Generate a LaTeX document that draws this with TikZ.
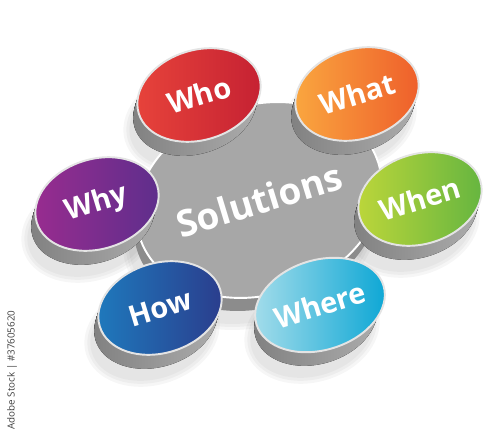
\documentclass[tikz,border=0pt]{standalone}
\usepackage{fontspec}
\newfontfamily\discfont{Open Sans}
\usetikzlibrary{calc, shapes.geometric}

\definecolor{whoA}{HTML}{E8443B}
\definecolor{whoB}{HTML}{C42032}
\definecolor{whatA}{HTML}{FAA940}
\definecolor{whatB}{HTML}{EE5C2A}
\definecolor{whyA}{HTML}{9A2C8F}
\definecolor{whyB}{HTML}{5C2E8C}
\definecolor{whenA}{HTML}{BFD73A}
\definecolor{whenB}{HTML}{62B440}
\definecolor{howA}{HTML}{1E7BBE}
\definecolor{howB}{HTML}{2B3B8B}
\definecolor{whereA}{HTML}{A8DEEB}
\definecolor{whereB}{HTML}{08A5D4}
\definecolor{hubgray}{HTML}{A7A7A7}
\definecolor{rimgray}{HTML}{E4E4E4}

\tikzset{
  disc/.style={ellipse, draw=rimgray, line width=1.1pt, inner sep=0pt, minimum width=2.52cm, minimum height=1.8cm, rotate=17, text=white, font=\discfont\bfseries\fontsize{16.5}{16.5}\selectfont},
  hub/.style={ellipse, draw=white, line width=1.1pt, inner sep=0pt, fill=hubgray, minimum width=5cm, minimum height=3.8cm, rotate=17, text=white, font=\discfont\bfseries\fontsize{21}{21}\selectfont},
  discside/.style={left color=black!50, right color=black!32},
  hubside/.style={fill=black!45},
  softshadow/.style={fill=black, opacity=0.035},
}

\begin{document}
\begin{tikzpicture}[x=0.02cm, y=-0.02cm]

        \useasboundingbox (0,0) rectangle (500,429);

        %% Shadows
        \foreach \cx/\cy/\rx/\ry in {259/200/125/95, 199/95/63/45, 357/94/63/45, 97/204/63/45, 420/199/63/45, 160/308/63/45, 320/305/63/45} {
            \foreach \g in {0,3,6}
                \fill[softshadow, rotate around={17:($(\cx,\cy)+(-8,26)$)}] ($(\cx,\cy)+(-8,26)$) ellipse [x radius=\rx+\g, y radius=\ry+\g];
        }

        %% Base of the centre
        \foreach \d in {0,...,13}
            \fill[hubside, shift={(-0.2*\d,\d)}, rotate around={17:(259,200)}] (259,200) ellipse [x radius=125, y radius=95];

        %% Centre
        \node (solutions) [hub] at (259,200) {Solutions};

        %% Sides of the small discs
        \foreach \cx/\cy in {199/95, 357/94, 97/204, 420/199, 160/308, 320/305} {
            \foreach \d in {0,...,14}
                \fill[discside, shift={(-0.3*\d,\d)}, rotate around={17:(\cx,\cy)}] (\cx,\cy) ellipse [x radius=63, y radius=45];
        }

        %% Small discs
        \node (who) [disc, left color=whoA, right color=whoB] at (199,95) {Who};
        \node (what) [disc, left color=whatA, right color=whatB] at (357,94) {What};
        \node (why) [disc, left color=whyA, right color=whyB] at (97,204) {Why};
        \node (when) [disc, left color=whenA, right color=whenB] at (420,199) {When};
        \node (how) [disc, left color=howA, right color=howB] at (160,308) {How};
        \node (where) [disc, left color=whereA, right color=whereB] at (320,305) {Where};

        %% Stock mark
        \node (stockmark) [rotate=90, text=black!75, font=\discfont\fontsize{5.6}{6}\selectfont] at (12,370) {Adobe Stock | \#37605620};

    \end{tikzpicture}
\end{document}
